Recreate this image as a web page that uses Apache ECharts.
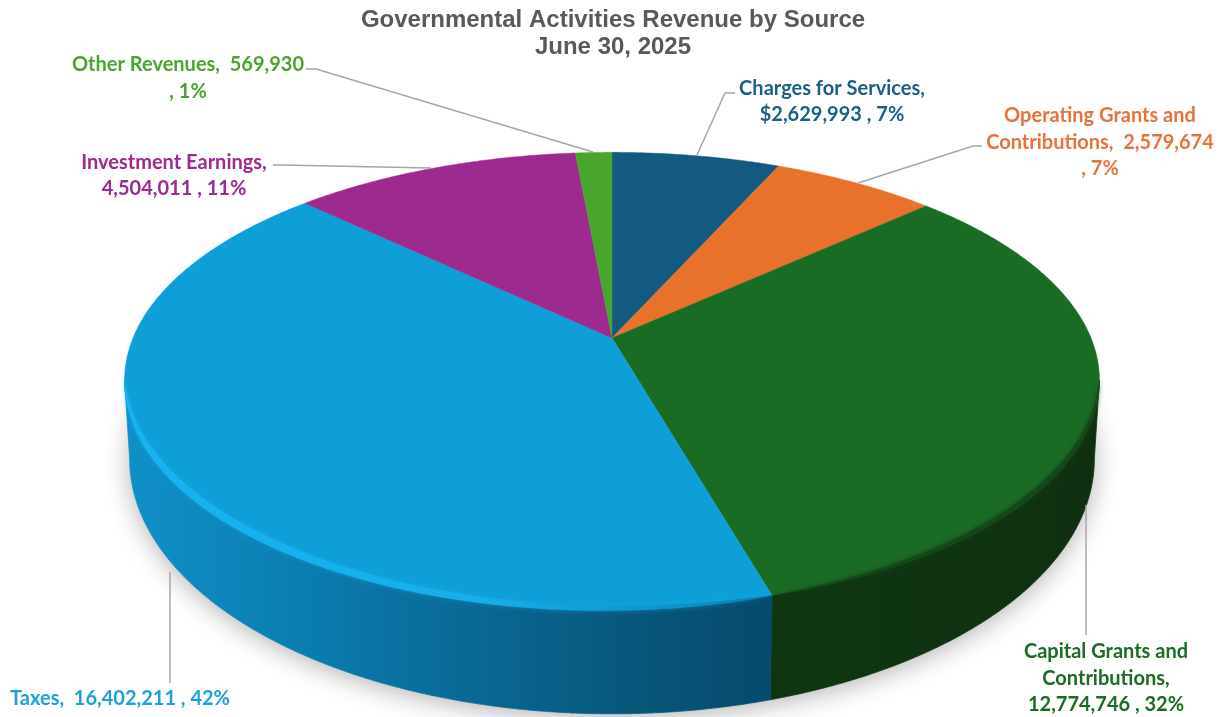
<!DOCTYPE html>
<html><head><meta charset="utf-8">
<style>html,body{margin:0;padding:0;background:#fff}#c{width:1228px;height:717px}</style>
<script src="https://cdn.jsdelivr.net/npm/echarts@6/dist/echarts.min.js"></script>
</head><body><div id="c"></div>
<script>
const categories = ['Charges for Services','Operating Grants and Contributions','Capital Grants and Contributions','Taxes','Investment Earnings','Other Revenues'];
const values = [2629993, 2579674, 12774746, 16402211, 4504011, 569930];
const labelLines = [
  ['Charges for Services,','$2,629,993 , 7%'],
  ['Operating Grants and','Contributions,  2,579,674',', 7%'],
  ['Capital Grants and','Contributions,','12,774,746 , 32%'],
  ['Taxes,  16,402,211 , 42%'],
  ['Investment Earnings,','4,504,011 , 11%'],
  ['Other Revenues,  569,930',', 1%']
];
const faceColors = ['#14597f','#e8722c','#1a6b24','#0f9fd8','#9c2a8f','#4aa52e'];
const textColors = ['#1a5f85','#e8733a','#1a6b24','#1aa0dc','#9c2a8f','#4aa52e'];
const titleText = 'Governmental Activities Revenue by Source\nJune 30, 2025';

// layout of the tilted pie (a circle under a perspective projection)
const K = 0.185, TOP = {cx:612, cy:338, rx:479, ry:220}, BASE = {cx:612, cy:412, rx:474, ry:246};
const WALL_FROM = Math.acos(-K), WALL_TO = 2*Math.PI - WALL_FROM;
const labelPos = [[832,89,26],[1100,116,26.5],[1106,652,26.5],[120,699,26],[174,163,26],[188,65,27]];
const leaders = [
  [[735,93],[725,93],[697,155]],
  [[982,146],[973,146],[858,183]],
  [[1086,505],[1086,635]],
  [[170,572],[170,683]],
  [[273,165],[281,165],[431,168]],
  [[306,69],[316,69],[593,152]]
];
const wallStops = {
  2:[[0,'#0f3611'],[1,'#0f3010']],
  3:[[0,'#1090c8'],[0.25,'#0b7fb2'],[0.45,'#0a6f9e'],[0.75,'#08597f'],[1,'#064a6c']]
};
const total = values.reduce((a,b)=>a+b,0);
let run = 0;
const angles = values.map(v=>{const s=run/total*2*Math.PI; run+=v; return [s,run/total*2*Math.PI];});

function pt(P,t){const u=Math.sin(t),v=-Math.cos(t),w=1-K*v;return [P.cx+P.rx*u/w,P.cy+P.ry*v/w];}
function arc(P,a,b){const n=Math.max(2,Math.ceil((b-a)/0.006)),o=[];for(let i=0;i<=n;i++)o.push(pt(P,a+(b-a)*i/n));return o;}
// crescent along the disc's edge, thinning out at both of its ends
function band(a,b,up,down){
  const outer=[],inner=[],n=Math.ceil((b-a)/0.006);
  for(let i=0;i<=n;i++){
    const f=i/n,t=a+(b-a)*f,p=pt(TOP,t),g=Math.pow(Math.sin(Math.PI*f),0.5);
    outer.push([p[0],p[1]+down*g]);inner.push([p[0]+(TOP.cx-p[0])*0.004*up*g,p[1]-up*g]);
  }
  return outer.concat(inner.reverse());
}
const LG = echarts.graphic.LinearGradient;

function renderSlice(params){
  const i = params.dataIndex, [a,b] = angles[i], kids = [];
  if(i===0){ // soft ground shadow under the whole disc
    kids.push({type:'polygon',z2:0,shape:{points:arc(BASE,0,2*Math.PI)},
      style:{fill:'#ffffff',shadowColor:'rgba(0,0,0,0.3)',shadowBlur:26,shadowOffsetX:0,shadowOffsetY:4}});
  }
  const wa=Math.max(a,WALL_FROM), wb=Math.min(b,WALL_TO);
  if(wb>wa){
    const x0 = i===3?125:770, x1 = i===3?770:1100;
    const wf=new LG(x0,0,x1,0,wallStops[i].map(s=>({offset:s[0],color:s[1]})),true);
    kids.push({type:'polygon',z2:1,shape:{points:arc(TOP,wa,wb).concat(arc(BASE,wa,wb).reverse())},
      style:{fill:wf,stroke:wf,lineWidth:0.8}});
    const rim = i===3
      ? new LG(125,0,770,0,[{offset:0,color:'#17b2f0'},{offset:0.55,color:'#18aeea'},{offset:0.7,color:'#12a0dc'},{offset:0.88,color:'#0e8fc6'},{offset:1,color:'#0c7fb0'}],true)
      : '#14481a';
    kids.push({type:'polygon',z2:3,shape:{points:band(wa,wb,i===3?3:2,i===3?4:2)},
      style:{fill:rim,shadowBlur:5,shadowColor:i===3?'rgba(20,170,230,.55)':'rgba(18,60,22,.8)'}});
  }
  kids.push({type:'polygon',z2:2,shape:{points:[[TOP.cx,TOP.cy]].concat(arc(TOP,a,b))},
    style:{fill:faceColors[i],stroke:faceColors[i],lineWidth:0.5}});
  kids.push({type:'polyline',z2:4,shape:{points:leaders[i]},
    style:{fill:null,stroke:'#a6a6a6',lineWidth:1.5}});
  const [lx,ly,lh]=labelPos[i];
  labelLines[i].forEach((t,n)=>kids.push({type:'text',z2:5,
    style:{text:t,x:lx,y:ly+n*lh,fill:textColors[i],font:'700 20px Lato, sans-serif',align:'center',verticalAlign:'middle'}}));
  return {type:'group',children:kids};
}

const chart = echarts.init(document.getElementById('c'),null,{renderer:'canvas'});
chart.setOption({
  animation:false,
  title:{text:titleText,left:608,top:2,textAlign:'center',
    textStyle:{fontFamily:'Liberation Sans',fontWeight:'bold',fontSize:24,lineHeight:27,color:'#595959'}},
  series:[{type:'custom',coordinateSystem:'none',renderItem:renderSlice,
    data:categories.map((n,i)=>({name:n,value:[values[i]]}))}]
});
</script></body></html>
